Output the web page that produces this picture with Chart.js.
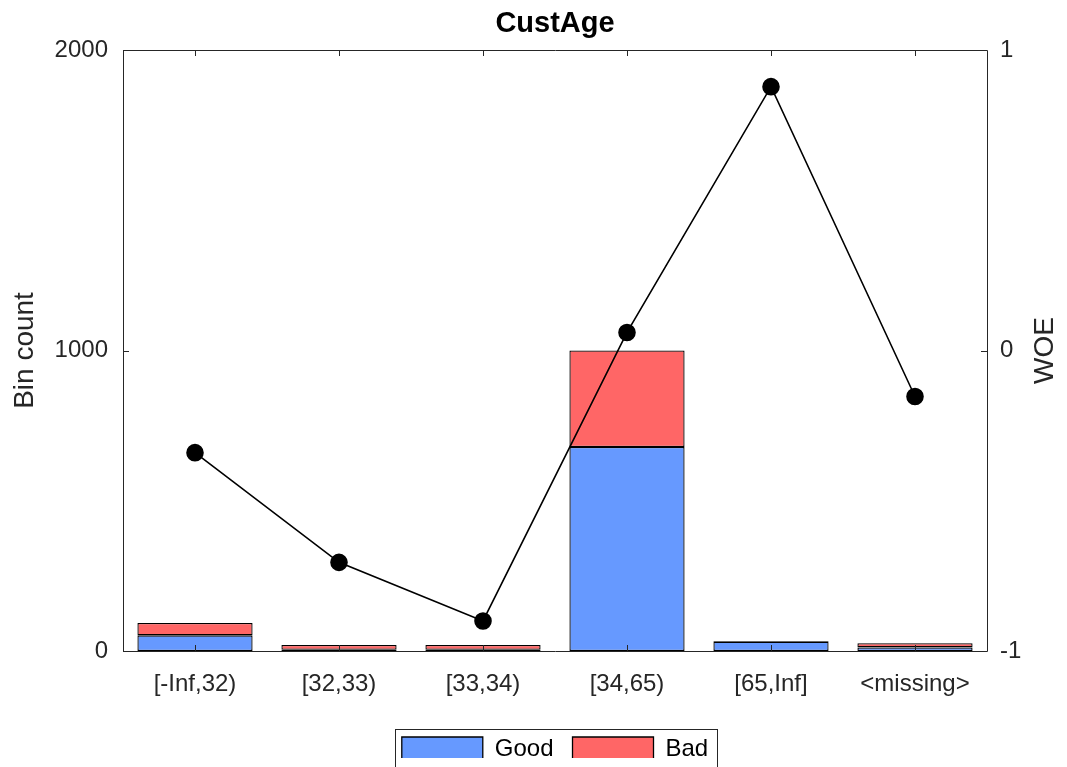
<!DOCTYPE html>
<html><head><meta charset="utf-8">
<script src="https://cdn.jsdelivr.net/npm/chart.js@4/dist/chart.umd.min.js"></script>
<style>html,body{margin:0;padding:0;background:#fff}#wrap{width:1067px;height:767px;position:relative}</style>
</head><body><div id="wrap"><canvas id="c"></canvas></div>
<script>
const categories = ['[-Inf,32)', '[32,33)', '[33,34)', '[34,65)', '[65,Inf]', '<missing>'];
const goodCounts = [52, 4, 4, 679, 31, 12];
const badCounts = [41, 16, 16, 321, 2, 14];
const woeValues = [-0.34, -0.705, -0.90, 0.06, 0.878, -0.153];
const countTicks = [0, 1000, 2000];
const woeTicks = [-1, 0, 1];

const FONT = "'Liberation Sans', Arial, Helvetica, sans-serif";
const AX = '#262626';

const framePlugin = {
  id: 'frame',
  afterLayout(chart) {
    const ca = chart.chartArea;
    const midPlot = (ca.left + ca.right) / 2;
    const tb = chart.titleBlock;
    if (tb) {
      const tdx = midPlot - (tb.left + tb.right) / 2;
      tb.left += tdx; tb.right += tdx;
    }
    const lg = chart.legend;
    if (!lg || !lg.lineWidths) return;
    const pad = lg.options.labels.padding;
    const lineW = lg.lineWidths[0];
    const curStart = (lg.left + pad + lg.right - lineW) / 2;
    const itemsW = lineW - pad;
    const desiredStart = midPlot - itemsW / 2;
    const dx = desiredStart - curStart;
    const dy = (ca.bottom + 86 - pad) - lg.top;
    lg.left += dx; lg.right += dx; lg.top += dy; lg.bottom += dy;
    chart.$legendBox = {x0: desiredStart - 7, x1: desiredStart + itemsW + 9, y0: ca.bottom + 78};
  },
  afterDraw(chart) {
    const ctx = chart.ctx;
    const ca = chart.chartArea;
    const xs = chart.scales.x, ys = chart.scales.y, y1 = chart.scales.y1;
    ctx.save();
    ctx.strokeStyle = AX;
    ctx.lineWidth = 1;
    ctx.beginPath();
    ctx.rect(Math.round(ca.left) + 0.5, Math.round(ca.top) + 0.5, Math.round(ca.right - ca.left), Math.round(ca.bottom - ca.top));
    ctx.stroke();
    const tl = 6;
    ctx.beginPath();
    categories.forEach((c, i) => {
      const px = Math.round(xs.getPixelForValue(i)) + 0.5;
      ctx.moveTo(px, ca.bottom); ctx.lineTo(px, ca.bottom - tl);
      ctx.moveTo(px, ca.top); ctx.lineTo(px, ca.top + tl);
    });
    countTicks.forEach(v => {
      const py = Math.round(ys.getPixelForValue(v)) + 0.5;
      ctx.moveTo(ca.left, py); ctx.lineTo(ca.left + tl, py);
    });
    woeTicks.forEach(v => {
      const py = Math.round(y1.getPixelForValue(v)) + 0.5;
      ctx.moveTo(ca.right, py); ctx.lineTo(ca.right - tl, py);
    });
    ctx.stroke();
    // right axis title, reading bottom-to-top
    ctx.fillStyle = AX;
    ctx.font = '28px ' + FONT;
    ctx.textAlign = 'center';
    ctx.textBaseline = 'middle';
    ctx.translate(1045, (ca.top + ca.bottom) / 2);
    ctx.rotate(-Math.PI / 2);
    ctx.fillText('WOE', 0, 0);
    ctx.restore();
    // legend frame
    const b = chart.$legendBox;
    if (b) {
      ctx.save();
      ctx.strokeStyle = AX;
      ctx.lineWidth = 1;
      ctx.strokeRect(Math.round(b.x0) + 0.5, Math.round(b.y0) + 0.5, Math.round(b.x1 - b.x0), 60);
      ctx.restore();
    }
  }
};

new Chart(document.getElementById('c'), {
  type: 'bar',
  data: {
    labels: categories,
    datasets: [
      {
        type: 'line', label: 'WOE', data: woeValues, yAxisID: 'y1', order: 0,
        borderColor: '#000', backgroundColor: '#000', borderWidth: 1.6,
        pointRadius: 8, pointBackgroundColor: '#000', pointBorderColor: '#000', tension: 0
      },
      {
        label: 'Good', data: goodCounts, yAxisID: 'y', order: 1, stack: 's',
        backgroundColor: '#6699FF', borderColor: '#000', borderWidth: 1.3, borderSkipped: false,
        barPercentage: 0.8, categoryPercentage: 1.0
      },
      {
        label: 'Bad', data: badCounts, yAxisID: 'y', order: 1, stack: 's',
        backgroundColor: '#FF6666', borderColor: '#000', borderWidth: 1.3, borderSkipped: false,
        barPercentage: 0.8, categoryPercentage: 1.0
      }
    ]
  },
  options: {
    responsive: true,
    maintainAspectRatio: false,
    animation: false,
    devicePixelRatio: 1,
    layout: {padding: 0},
    plugins: {
      tooltip: {enabled: false},
      title: {
        display: true, text: 'CustAge', color: '#000',
        font: {family: FONT, size: 29, weight: 'bold'},
        padding: {top: 7, bottom: 8.2}
      },
      legend: {
        display: true, position: 'bottom', maxHeight: 40,
        labels: {
          boxWidth: 81, boxHeight: 25, padding: 19, color: '#000',
          font: {family: FONT, size: 24},
          filter: (item) => item.text !== 'WOE'
        }
      }
    },
    scales: {
      x: {
        stacked: true,
        grid: {display: false, drawTicks: false},
        border: {display: false},
        ticks: {color: AX, font: {family: FONT, size: 24}, padding: 19, maxRotation: 0, autoSkip: false},
        afterFit: (s) => { s.height = 76; }
      },
      y: {
        position: 'left', stacked: true, min: 0, max: 2000,
        grid: {display: false, drawTicks: false},
        border: {display: false},
        afterBuildTicks: (s) => { s.ticks = countTicks.map(v => ({value: v})); },
        ticks: {color: AX, font: {family: FONT, size: 24}, padding: 15, callback: (v) => String(v)},
        title: {display: true, text: 'Bin count', color: AX, font: {family: FONT, size: 28}, padding: {top: 8, bottom: 0}},
        afterFit: (s) => { s.width = 123; }
      },
      y1: {
        position: 'right', min: -1, max: 1,
        grid: {display: false, drawTicks: false},
        border: {display: false},
        afterBuildTicks: (s) => { s.ticks = woeTicks.map(v => ({value: v})); },
        ticks: {color: AX, font: {family: FONT, size: 24}, padding: 13, callback: (v) => String(v)},
        afterFit: (s) => { s.width = 80; }
      }
    }
  },
  plugins: [framePlugin]
});
</script></body></html>
